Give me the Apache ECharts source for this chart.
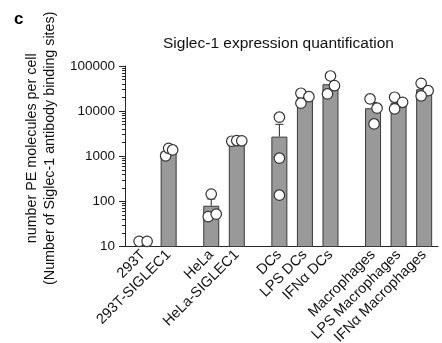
<!DOCTYPE html>
<html><head><meta charset="utf-8">
<script src="https://cdn.jsdelivr.net/npm/echarts@6/dist/echarts.min.js"></script>
<style>html,body{margin:0;padding:0;background:#fff}#c{width:442px;height:343px}</style>
</head><body><div id="c"></div>
<script>
// ---------- DATA ----------
const categories = ['293T', '293T-SIGLEC1', 'HeLa', 'HeLa-SIGLEC1', 'DCs', 'LPS DCs', 'IFNα DCs', 'Macrophages', 'LPS Macrophages', 'IFNα Macrophages'];
const barMeans = [13, 1270, 80, 2110, 2720, 19300, 39400, 11600, 15300, 30500];
const errUpper = [null, 1420, 113, 2180, 5100, 22200, 50000, 15500, 17900, 36300];
const replicates = [
  [13, 13],
  [1020, 1500, 1380],
  [145, 46, 52],
  [2150, 2230, 2200],
  [7330, 906, 137],
  [24900, 20900, 15000],
  [60100, 36700, 24000],
  [18600, 11600, 5200],
  [20300, 15700, 11200],
  [41400, 28400, 21700]
];
const yTickLabels = ['10', '100', '1000', '10000', '100000'];

// ---------- LAYOUT / STYLE ----------
const nCat = 147;
const slotIndex = [8, 20, 40, 52, 72, 84, 96, 116, 128, 140];
const jitter = [
  [-4, 4], [-3, 0, 4], [0, -3, 5], [-5, 0, 5], [0, 0, 0],
  [-4, 4, -4], [0, 4, -3], [-3, 4, 1], [-4, 4, -4], [-3, 4, -3]
];
const FONT = "'Liberation Sans', Arial, sans-serif";
const INK = '#262626';

const nameAt = {};
slotIndex.forEach((s, i) => nameAt[s] = categories[i]);
const xData = [];
for (let i = 0; i < nCat; i++) xData.push('c' + i);

const barData = xData.map(() => '-');
barMeans.forEach((v, i) => barData[slotIndex[i]] = v);

const pointData = [];
replicates.forEach((arr, i) => arr.forEach((v, j) => {
  pointData.push({ value: [slotIndex[i], v], symbolOffset: [jitter[i][j], 0] });
}));

const errData = [];
errUpper.forEach((v, i) => { if (v != null) errData.push([slotIndex[i], barMeans[i], v]); });

const minorVals = [];
for (let d = 1; d < 5; d++) for (let m = 2; m <= 9; m++) minorVals.push(Math.log10(m) + d);

const chart = echarts.init(document.getElementById('c'), null, { renderer: 'canvas' });
chart.setOption({
  animation: false,
  backgroundColor: '#fff',
  textStyle: { fontFamily: FONT },
  title: [
    { text: 'Siglec-1 expression quantification', left: 158, top: 31,
      textStyle: { fontFamily: FONT, fontSize: 15.5, fontWeight: 'normal', color: '#111' } },
    { text: 'c', left: 9, top: 6,
      textStyle: { fontFamily: FONT, fontSize: 17, fontWeight: 'bold', color: '#000' } }
  ],
  grid: { left: 125, width: 313, top: 66, height: 180.5, containLabel: false, outerBoundsMode: 'none' },
  xAxis: {
    type: 'category', data: xData, boundaryGap: true,
    axisLine: { lineStyle: { color: INK, width: 1 } },
    axisTick: { alignWithLabel: true, length: 6, lineStyle: { color: INK },
      interval: (idx) => nameAt[idx] !== undefined },
    axisLabel: { interval: (idx) => nameAt[idx] !== undefined, rotate: 45, margin: 6,
      fontFamily: FONT, fontSize: 14.5, color: '#111',
      formatter: (v, idx) => nameAt[idx] || '' },
    splitLine: { show: false }
  },
  yAxis: [
    { type: 'log', logBase: 10, min: 10, max: 100000,
      axisLine: { show: true, lineStyle: { color: INK, width: 1 } },
      axisTick: { show: true, length: 6, lineStyle: { color: INK } },
      axisLabel: { fontFamily: FONT, fontSize: 13.5, color: '#111', margin: 10,
        formatter: (v) => yTickLabels[Math.round(Math.log10(v)) - 1] },
      splitLine: { show: false },
      name: 'number PE molecules per cell\n(Number of Siglec-1 antibody binding sites)',
      nameLocation: 'middle', nameGap: 62,
      nameTextStyle: { fontFamily: FONT, fontSize: 14.3, color: '#111', lineHeight: 18, padding: [0, 0, 0, 16] }
    },
    { type: 'value', min: 1, max: 5, position: 'left',
      axisLine: { show: false },
      axisLabel: { show: false },
      splitLine: { show: false },
      axisTick: { show: true, length: 3, lineStyle: { color: INK, width: 1 }, customValues: minorVals }
    }
  ],
  series: [
    { type: 'bar', data: barData, barWidth: 16, clip: true, z: 2,
      itemStyle: { color: '#999999', borderColor: '#3a3a3a', borderWidth: 1 } },
    { type: 'custom', data: errData, z: 3, clip: true,
      renderItem: (params, api) => {
        const x = api.value(0);
        const p0 = api.coord([x, api.value(1)]);
        const p1 = api.coord([x, api.value(2)]);
        const cw = 4;
        const st = { stroke: INK, lineWidth: 1 };
        return { type: 'group', children: [
          { type: 'line', shape: { x1: p0[0], y1: p0[1], x2: p1[0], y2: p1[1] }, style: st },
          { type: 'line', shape: { x1: p1[0] - cw, y1: p1[1], x2: p1[0] + cw, y2: p1[1] }, style: st }
        ] };
      } },
    { type: 'scatter', data: pointData, symbol: 'circle', symbolSize: 10.5, z: 4,
      itemStyle: { color: '#fff', borderColor: '#333', borderWidth: 1.2, opacity: 1 } }
  ]
});
</script>
</body></html>
